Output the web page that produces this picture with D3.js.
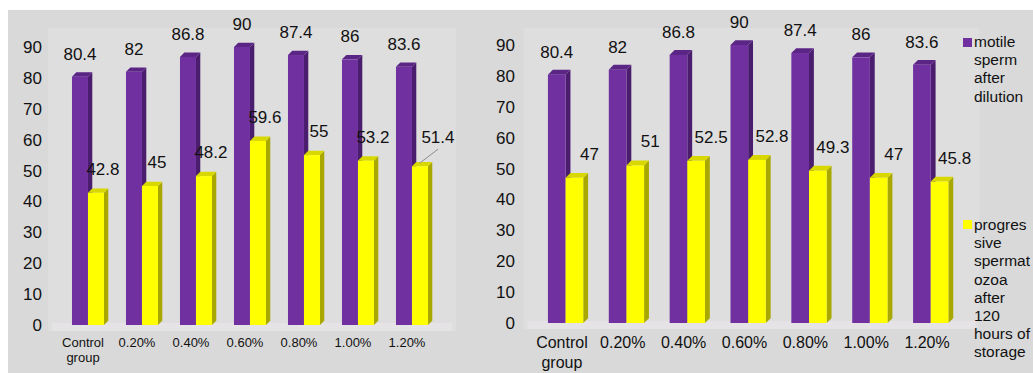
<!DOCTYPE html>
<html>
<head>
<meta charset="utf-8">
<script src="https://cdn.jsdelivr.net/npm/d3@7"></script>
<style>
  html, body { margin: 0; padding: 0; background: #ffffff; }
  svg { display: block; font-family: "Liberation Sans", Arial, sans-serif; }
</style>
</head>
<body>
<svg id="chart" width="1033" height="373"></svg>
<script>
// Categories (concentration groups)
const categories = ["Control group", "0.20%", "0.40%", "0.60%", "0.80%", "1.00%", "1.20%"];
const yTicks = [0, 10, 20, 30, 40, 50, 60, 70, 80, 90];

// Left panel
const leftMotile = [80.4, 82, 86.8, 90, 87.4, 86, 83.6];
const leftProgressive = [42.8, 45, 48.2, 59.6, 55, 53.2, 51.4];

// Right panel
const rightMotile = [80.4, 82, 86.8, 90, 87.4, 86, 83.6];
const rightProgressive = [47, 51, 52.5, 52.8, 49.3, 47, 45.8];

const legendMotile = ["motile", "sperm", "after", "dilution"];
const legendProgressive = ["progres", "sive", "spermat", "ozoa", "after", "120", "hours of", "storage"];

const colors = {
  motile: { front: "#7030a0", side: "#4a1d6e", top: "#5a2585" },
  progressive: { front: "#ffff00", side: "#a8a800", top: "#d8d800" }
};

const svg = d3.select("#chart");

// grey backdrop
svg.append("rect")
  .attr("x", 8).attr("y", 10).attr("width", 1025).attr("height", 363)
  .attr("fill", "#d9d9d9");

function drawPanel(opts) {
  const g = svg.append("g");
  const x = d3.scaleBand().domain(categories).range(opts.xRange).padding(0);
  const y = d3.scaleLinear().domain([0, 90]).range(opts.yRange);
  const step = x.step();
  const bw = step * opts.barFrac;
  const depth = step * 0.08;

  // plot wall and floor
  g.append("rect")
    .attr("x", opts.xRange[0] - 8).attr("y", 28)
    .attr("width", opts.xRange[1] - opts.xRange[0] + 30)
    .attr("height", y(0) - 28 + 6)
    .attr("fill", "#dedede");
  g.append("rect")
    .attr("x", opts.xRange[0] - 4).attr("y", y(0) - 2)
    .attr("width", opts.xRange[1] - opts.xRange[0] + 22)
    .attr("height", 8)
    .attr("fill", "#e6e3e6");

  // y axis labels
  const yAxis = d3.axisLeft(y).tickValues(yTicks).tickSize(0).tickPadding(0);
  const ya = g.append("g")
    .attr("transform", `translate(${opts.yLabelX},0)`)
    .call(yAxis);
  ya.select(".domain").remove();
  ya.selectAll("text")
    .attr("font-size", opts.yFont)
    .attr("font-family", "Liberation Sans, Arial, sans-serif")
    .attr("fill", "#111");

  // 3D column
  function bar(cat, v, offset, col) {
    const x0 = x(cat) + offset;
    const yt = y(v), yb = y(0);
    const bg = g.append("g");
    // side face
    bg.append("path")
      .attr("d", `M${x0 + bw},${yb} L${x0 + bw + depth},${yb - depth} L${x0 + bw + depth},${yt - depth} L${x0 + bw},${yt} Z`)
      .attr("fill", col.side);
    // top face
    bg.append("path")
      .attr("d", `M${x0},${yt} L${x0 + depth},${yt - depth} L${x0 + bw + depth},${yt - depth} L${x0 + bw},${yt} Z`)
      .attr("fill", col.top);
    // front face
    bg.append("rect")
      .attr("x", x0).attr("y", yt).attr("width", bw).attr("height", yb - yt)
      .attr("fill", col.front);
  }

  const purpleOff = step * opts.startFrac;
  const yellowOff = purpleOff + bw;

  categories.forEach((c, i) => {
    bar(c, opts.motile[i], purpleOff, colors.motile);
  });
  categories.forEach((c, i) => {
    bar(c, opts.progressive[i], yellowOff, colors.progressive);
  });

  // value labels
  categories.forEach((c, i) => {
    const v = opts.motile[i];
    g.append("text")
      .attr("x", x(c) + purpleOff + bw / 2)
      .attr("y", y(v) - 17)
      .attr("text-anchor", "middle")
      .attr("font-size", opts.valFont)
      .attr("fill", "#111")
      .text(v);
  });
  categories.forEach((c, i) => {
    const v = opts.progressive[i];
    const bx = x(c) + yellowOff + bw / 2;
    const lead = opts.leaderAt === c;
    const lx = bx + (lead ? 18 : opts.yellowLabelDx);
    const ly = y(v) - 18 - (lead ? 5 : 0);
    if (lead) {
      g.append("line")
        .attr("x1", bx).attr("y1", y(v) - depth + 1)
        .attr("x2", lx).attr("y2", ly + 6)
        .attr("stroke", "#8c8c8c").attr("stroke-width", 1);
    }
    g.append("text")
      .attr("x", lx)
      .attr("y", ly)
      .attr("text-anchor", "middle")
      .attr("font-size", opts.valFont)
      .attr("fill", "#111")
      .text(v);
  });

  // category labels
  const xa = g.append("g");
  categories.forEach((c) => {
    const words = c.split(" ");
    const t = xa.append("text")
      .attr("x", x(c) + step / 2)
      .attr("y", opts.catY)
      .attr("text-anchor", "middle")
      .attr("font-size", opts.catFont)
      .attr("fill", "#111");
    words.forEach((w, k) => {
      t.append("tspan")
        .attr("x", x(c) + step / 2)
        .attr("dy", k === 0 ? 0 : opts.catLine)
        .text(w);
    });
  });
}

drawPanel({
  xRange: [56, 434],
  yRange: [325, 47],
  yLabelX: 42,
  yFont: 17,
  valFont: 17,
  catFont: 13,
  catY: 347,
  catLine: 15,
  barFrac: 0.296,
  startFrac: 0.296,
  yellowLabelDx: 7,
  motile: leftMotile,
  progressive: leftProgressive,
  leaderAt: "1.20%"
});

drawPanel({
  xRange: [531.5, 957.5],
  yRange: [323, 45],
  yLabelX: 515,
  yFont: 17,
  valFont: 17,
  catFont: 16,
  catY: 348,
  catLine: 20,
  barFrac: 0.29,
  startFrac: 0.27,
  yellowLabelDx: 15,
  motile: rightMotile,
  progressive: rightProgressive,
  leaderAt: null
});

// legend
function legendBlock(lines, col, sy, ty) {
  svg.append("rect")
    .attr("x", 963).attr("y", sy).attr("width", 9).attr("height", 9)
    .attr("fill", col);
  const t = svg.append("text")
    .attr("x", 974).attr("y", ty)
    .attr("font-size", 15.5)
    .attr("fill", "#111");
  lines.forEach((l, k) => {
    t.append("tspan").attr("x", 974).attr("dy", k === 0 ? 0 : 18.2).text(l);
  });
}
legendBlock(legendMotile, colors.motile.front, 38, 47);
legendBlock(legendProgressive, colors.progressive.front, 220, 230);
</script>
</body>
</html>
